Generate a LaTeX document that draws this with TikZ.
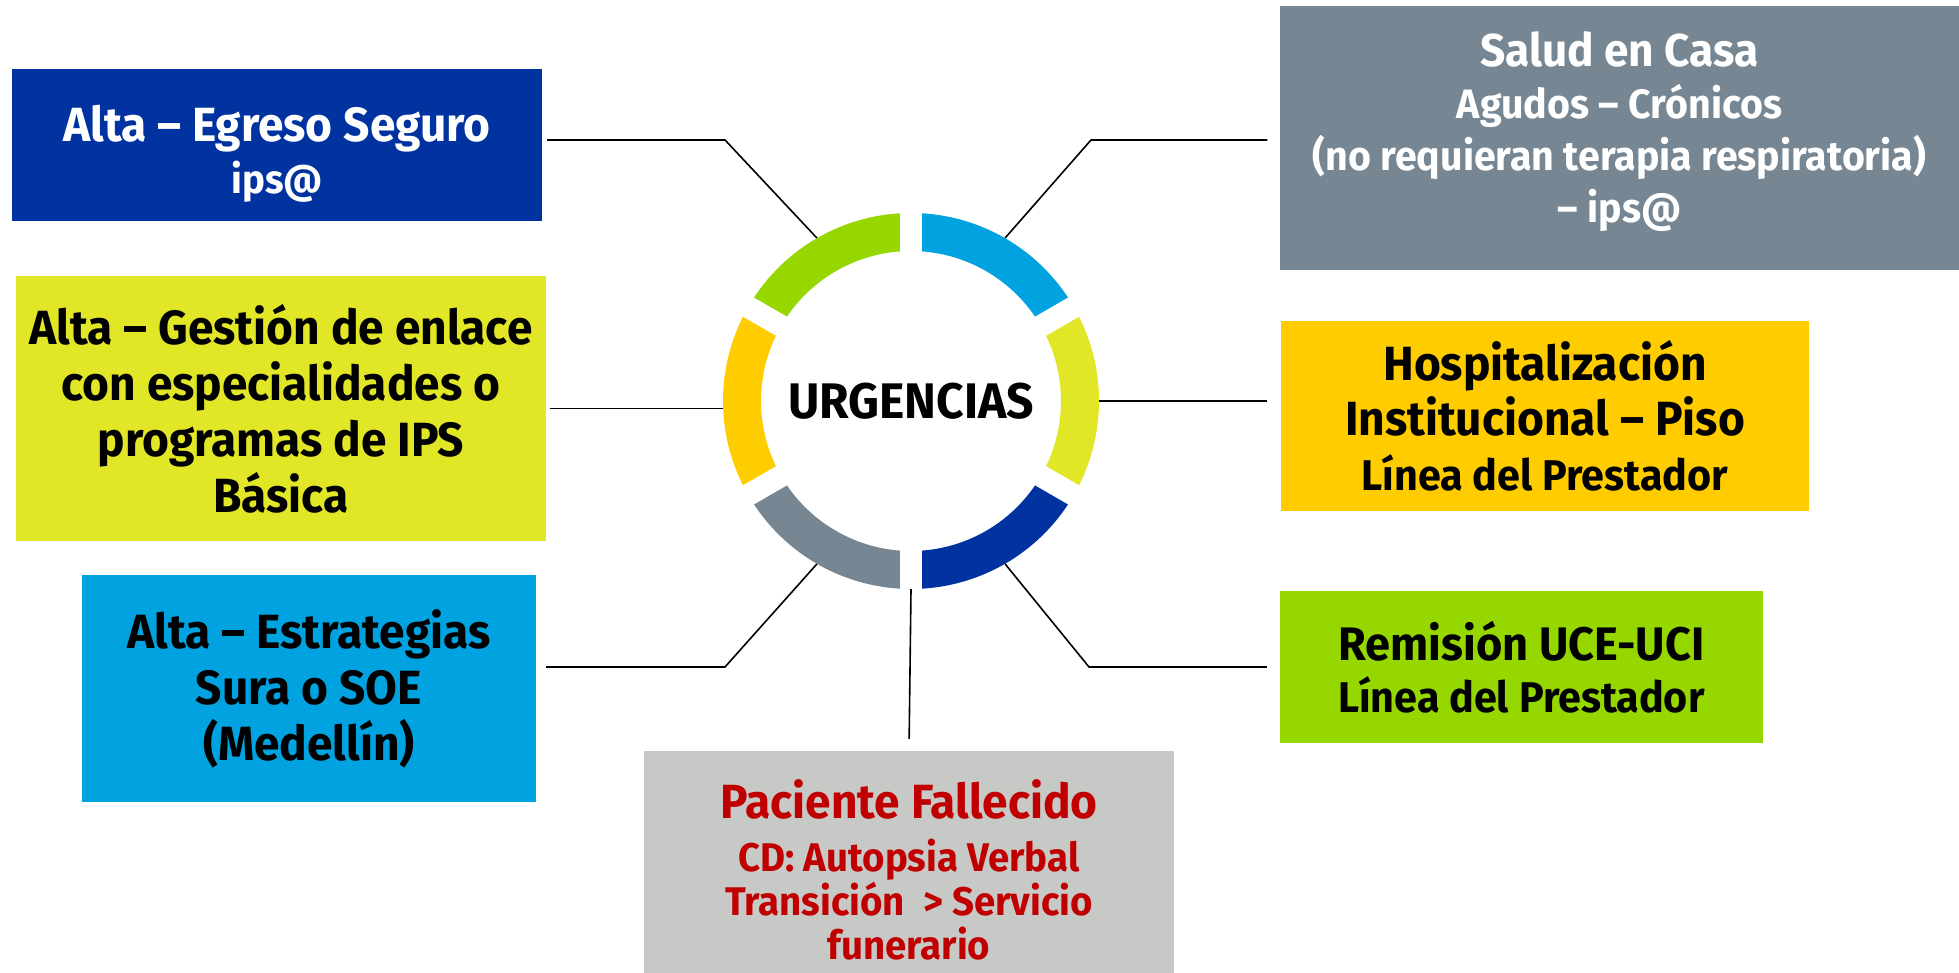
\documentclass[tikz,border=0pt]{standalone}
\usepackage{fontspec}
\setmainfont{Fira Sans}[FakeStretch=0.96]
\usepackage{xcolor}
\usepackage{tikz}
\usetikzlibrary{positioning,calc}
\definecolor{ringgreen}{HTML}{97D700}
\definecolor{ringsky}{HTML}{00A3E0}
\definecolor{ringlime}{HTML}{E1E726}
\definecolor{ringyellow}{HTML}{FFCC00}
\definecolor{ringgray}{HTML}{768692}
\definecolor{ringblue}{HTML}{0033A0}
\definecolor{boxsilver}{HTML}{C7C9C6}
\definecolor{deathred}{HTML}{C00000}
\newcommand{\fsz}[2]{\fontsize{#1}{#2}\selectfont}

\begin{document}
\begin{tikzpicture}[
    x=1pt, y=1pt,
    box/.style={rectangle, inner sep=0pt, align=center},
    link/.style={draw=black, line width=1.6pt},
    gap/.style={draw=white, line width=22pt}
]
\useasboundingbox (0,0) rectangle (1959,973);
\coordinate (ctr) at (911,572);

% ring of six segments
\foreach \a/\col in {90/ringgreen,150/ringyellow,210/ringgray,270/ringblue,330/ringlime,390/ringsky}
  \fill[\col] ($(ctr)+(\a:188)$) arc[start angle=\a, end angle=\a+60, radius=188]
     -- ($(ctr)+(\a+60:150)$) arc[start angle=\a+60, end angle=\a, radius=150] -- cycle;
\foreach \a in {30,90,...,330}
  \draw[gap] (ctr) -- ($(ctr)+(\a:200)$);
\node[circle, minimum size=376, inner sep=0pt, font=\bfseries\fsz{50}{50}] (urg) at (ctr) {URGENCIAS};

% left side
\node[box, fill=ringblue, text=white, minimum width=530, minimum height=152, font=\bfseries\fsz{48}{52}] (egreso) at (277,828) {\mbox{}\\[2pt]Alta – Egreso Seguro\\{\fsz{40}{40}ips@}};
\node[box, fill=ringlime, minimum width=530, minimum height=265, font=\bfseries\fsz{48}{56}] (gestion) at (281,564.5) {Alta – Gestión de enlace\\con especialidades o\\programas de IPS\\Básica};
\node[box, fill=ringsky, minimum width=454, minimum height=227, font=\bfseries\fsz{48}{56}] (estrategias) at (309,284.5) {Alta – Estrategias\\Sura o SOE\\(Medellín)};

% bottom
\node[box, fill=boxsilver, text=deathred, minimum width=530, minimum height=238, font=\bfseries\fsz{40}{44}] (fallecido) at (909,103) {{\fsz{48}{48}Paciente Fallecido}\\[9pt]CD: Autopsia Verbal\\Transición\ \ > Servicio\\funerario};

% right side
\node[box, fill=ringgray, text=white, minimum width=680, minimum height=264, font=\bfseries\fsz{41}{52}] (salud) at (1619.5,835) {{\fsz{46}{46}Salud en Casa}\\Agudos – Crónicos\\(no requieran terapia respiratoria)\\– ips@\\[-31pt]\mbox{}};
\node[box, fill=ringyellow, minimum width=528, minimum height=190, font=\bfseries\fsz{43}{55}] (hosp) at (1545,557) {{\fsz{48}{48}Hospitalización}\\{\fsz{48}{48}Institucional – Piso}\\Línea del Prestador};
\node[box, fill=ringgreen, minimum width=483, minimum height=152, font=\bfseries\fsz{43}{52}] (remision) at (1521.5,306) {{\fsz{47}{47}Remisión UCE-UCI}\\Línea del Prestador};

% connectors
\coordinate (k1) at (725,833);
\coordinate (k3) at (725,306);
\coordinate (k5) at (1091,833);
\coordinate (k7) at (1089,306);
\draw[link, shorten <=5pt] (egreso.east |- k1) -- (k1) -- (urg.120);
\draw[link, shorten <=4pt] (gestion.east) -- (gestion.east -| urg.west);
\draw[link, shorten <=10pt] (estrategias.east |- k3) -- (k3) -- (urg.240);
\draw[link, shorten >=12pt] (urg.south) -- (fallecido.north);
\draw[link, shorten <=12pt] (salud.west |- k5) -- (k5) -- (urg.60);
\draw[link, shorten >=14pt] (urg.east) -- (urg.east -| hosp.west);
\draw[link, shorten >=13pt] (urg.300) -- (k7) -- (remision.west |- k7);
\end{tikzpicture}
\end{document}
